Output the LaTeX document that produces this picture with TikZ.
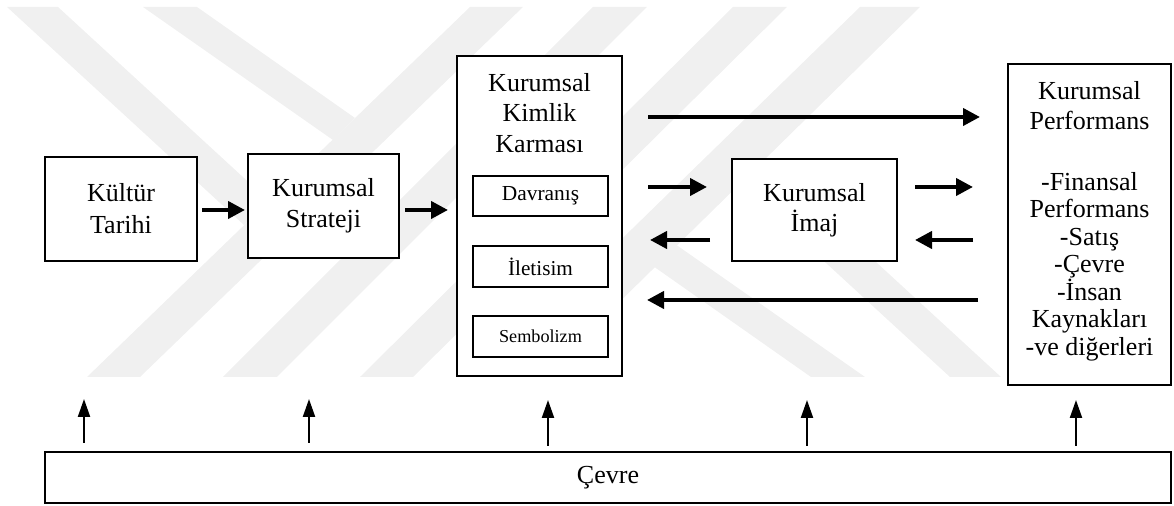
\documentclass[tikz,border=0pt]{standalone}
\usepackage{fontspec}
\setmainfont{Liberation Serif}
\usetikzlibrary{arrows.meta}
\definecolor{wm}{RGB}{240,240,240}
\begin{document}
\begin{tikzpicture}[x=0.5pt,y=-0.5pt,
  box/.style={draw=black, line width=1pt, fill=white, outer sep=0pt, inner sep=0pt, align=center, font=\fontsize{13}{15.5}\selectfont},
  harrow/.style={line width=2pt, -{Triangle[length=8.5pt,width=8.5pt]}},
  varrow/.style={line width=1.1pt, -{Triangle[length=9pt,width=6pt]}},
  txt/.style={align=center, inner sep=0pt, font=\fontsize{13}{15.25}\selectfont},
  wmark/.style={fill=wm, draw=none}]
\useasboundingbox (0,0) rectangle (1174,506);
% watermark
\fill[wmark] (7,7) -- (58,7) -- (269,201) -- (244,225) -- cycle;
\fill[wmark] (143,7) -- (197,7) -- (355,118) -- (333,140) -- cycle;
\fill[wmark] (470,7) -- (523,7) -- (140,377) -- (87,377) -- cycle;
\fill[wmark] (593,7) -- (647,7) -- (277,377) -- (223,377) -- cycle;
\fill[wmark] (733,7) -- (787,7) -- (413,377) -- (360,377) -- cycle;
\fill[wmark] (860,7) -- (920,7) -- (543,377) -- (480,377) -- cycle;
\fill[wmark] (1001,377) -- (950,377) -- (739,183) -- (764,159) -- cycle;
\fill[wmark] (865,377) -- (811,377) -- (653,266) -- (675,244) -- cycle;
% boxes
\node[box, minimum width=76pt, minimum height=52pt, font=\fontsize{13}{16}\selectfont] (kultur) at (121,209) {Kültür\\Tarihi};
\node[box, minimum width=75.5pt, minimum height=52pt] (strateji) at (323.5,206) {Kurumsal\\Strateji};
\node[box, minimum width=82.5pt, minimum height=160pt] (kimlik) at (539.5,216) {};
\node[txt] (kimlikbaslik) at (539.5,113) {Kurumsal\\Kimlik\\Karması};
\node[box, minimum width=67.5pt, minimum height=20pt, font=\fontsize{10.7}{12}\selectfont] (davranis) at (540.5,196) {Davranış};
\node[box, minimum width=67.5pt, minimum height=20.5pt, font=\fontsize{10.6}{12}\selectfont] (iletisim) at (540.5,266.5) {İletisim};
\node[box, minimum width=67.5pt, minimum height=20.5pt, font=\fontsize{9.1}{11}\selectfont] (sembolizm) at (540.5,336.5) {Sembolizm};
\node[box, minimum width=82.5pt, minimum height=51pt, font=\fontsize{13}{15}\selectfont] (imaj) at (814.5,210) {Kurumsal\\İmaj};
\node[box, minimum width=81.5pt, minimum height=160.5pt] (perf) at (1089.5,224.5) {};
\node[txt, font=\fontsize{13}{13.75}\selectfont] (perftext) at (1089.5,221) {Kurumsal\\[1.25pt]Performans\\[16.75pt]-Finansal\\Performans\\-Satış\\-Çevre\\-İnsan\\Kaynakları\\-ve diğerleri};
\node[box, minimum width=563pt, minimum height=25.5pt] (cevre) at (608,477.5) {Çevre};
% levels
\coordinate (yA) at (0,210);
\coordinate (yB) at (0,117);
\coordinate (yC) at (0,187);
\coordinate (yD) at (0,240);
\coordinate (yE) at (0,300);
% horizontal arrows
\draw[harrow, shorten <=2.5pt, shorten >=1.5pt] (kultur.east |- yA) -- (strateji.west |- yA);
\draw[harrow, shorten <=3pt, shorten >=4.5pt] (strateji.east |- yA) -- (kimlik.west |- yA);
\draw[harrow, shorten <=13pt, shorten >=14pt] (kimlik.east |- yB) -- (perf.west |- yB);
\draw[harrow, shorten <=13pt, shorten >=12.5pt] (kimlik.east |- yC) -- (imaj.west |- yC);
\draw[harrow, shorten <=9pt, shorten >=17.5pt] (imaj.east |- yC) -- (perf.west |- yC);
\draw[harrow, shorten <=17.5pt, shorten >=9pt] (perf.west |- yD) -- (imaj.east |- yD);
\draw[harrow, shorten <=11pt, shorten >=14pt] (imaj.west |- yD) -- (kimlik.east |- yD);
\draw[harrow, shorten <=15pt, shorten >=12.5pt] (perf.west |- yE) -- (kimlik.east |- yE);
% vertical arrows
\coordinate (v1) at (84,399);
\coordinate (v2) at (309,399);
\coordinate (v3) at (548,400);
\coordinate (v4) at (807,400);
\coordinate (v5) at (1076,400);
\draw[varrow, shorten <=4.5pt] (cevre.north -| v1) -- (v1);
\draw[varrow, shorten <=4.5pt] (cevre.north -| v2) -- (v2);
\draw[varrow, shorten <=3pt] (cevre.north -| v3) -- (v3);
\draw[varrow, shorten <=3pt] (cevre.north -| v4) -- (v4);
\draw[varrow, shorten <=3pt] (cevre.north -| v5) -- (v5);
\end{tikzpicture}
\end{document}
